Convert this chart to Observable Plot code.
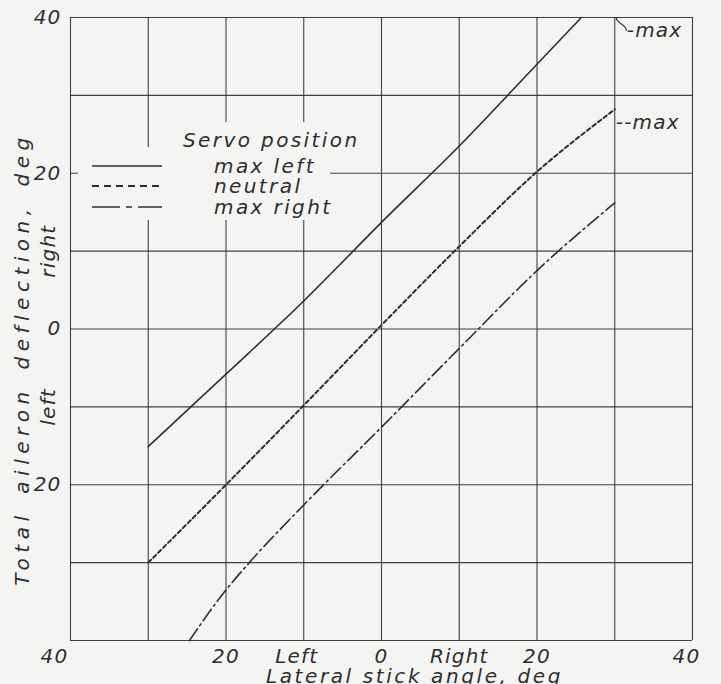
<!DOCTYPE html>
<html>
<head>
<meta charset="utf-8">
<script src="https://cdn.jsdelivr.net/npm/d3@7"></script>
<script src="https://cdn.jsdelivr.net/npm/@observablehq/plot@0.6"></script>
<style>
  html, body { margin: 0; padding: 0; background: #f4f4f2; }
  #chart { width: 721px; height: 684px; }
  svg text { font-style: italic; }
</style>
</head>
<body>
<div id="chart"></div>
<script>
// Lateral stick angle (deg) vs. total aileron deflection (deg) for three servo positions
const maxLeftStick   = [-30, -20, -10, 0, 10, 20, 25.7];
const maxLeftDefl    = [-15.1, -5.8, 3.6, 13.7, 23.5, 34, 40];

const neutralStick   = [-30, -20, -10, 0, 10, 20, 30];
const neutralDefl    = [-30, -20, -9.8, 0.5, 10.6, 20.2, 28.2];

const maxRightStick  = [-24.7, -20, -17, -10, 0, 10, 20, 30];
const maxRightDefl   = [-40, -33.5, -30, -22.6, -12.6, -2.5, 7.5, 16.2];

const legendLabels   = ["max left", "neutral", "max right"];
const legendTitle    = "Servo position";

const xTickValues = [-40, -20, -10, 0, 10, 20, 40];
const xTickLabels = ["40", "20", "Left", "0", "Right", "20", "40"];
const yTickValues = [40, 20, 0, -20];
const yTickLabels = ["40", "20", "0", "20"];
const ySideValues = [10, -10];
const ySideLabels = ["right", "left"];

const gridValues = d3.range(-40, 41, 10);

const ink = "#2e2e2e";
const paper = "#f4f4f2";
const font = "'DejaVu Sans', sans-serif";
const fs = 20;

const toRows = (xs, ys) => xs.map((x, i) => ({x, y: ys[i]}));
const maxLeft = toRows(maxLeftStick, maxLeftDefl);
const neutral = toRows(neutralStick, neutralDefl);
const maxRight = toRows(maxRightStick, maxRightDefl);
const xTicks = xTickValues.map((v, i) => ({v, label: xTickLabels[i]}));

const lettering = {fill: ink, fontSize: fs, fontStyle: "italic"};

const chart = Plot.plot({
  width: 721,
  height: 684,
  marginLeft: 70,
  marginRight: 29,
  marginTop: 17,
  marginBottom: 44,
  x: {domain: [-40, 40], axis: null},
  y: {domain: [-40, 40], axis: null},
  style: {background: paper, fontFamily: font, fontSize: fs + "px", color: ink},
  marks: [
    Plot.ruleX(gridValues, {stroke: ink, strokeWidth: 1.1, strokeOpacity: 0.9}),
    Plot.ruleY(gridValues, {stroke: ink, strokeWidth: 1.1, strokeOpacity: 0.9}),

    Plot.line(maxLeft, {x: "x", y: "y", stroke: ink, strokeWidth: 1.6, curve: "monotone-x"}),
    Plot.line(neutral, {x: "x", y: "y", stroke: ink, strokeWidth: 2, strokeDasharray: "4,3", curve: "monotone-x"}),
    Plot.line(maxRight, {x: "x", y: "y", stroke: ink, strokeWidth: 1.6, strokeDasharray: "14,4,2,4", curve: "monotone-x"}),

    // end notes at the stick limit
    Plot.link([{x1: 30.2, y1: 40, x2: 31.5, y2: 38.3}], {x1: "x1", y1: "y1", x2: "x2", y2: "y2", stroke: ink, strokeWidth: 1.2, curve: "bump-y"}),
    Plot.text([{x: 30, y: 40}], {x: "x", y: "y", text: () => "-max", dx: 12, dy: 13, textAnchor: "start", ...lettering}),
    Plot.text([{x: 30, y: 28.2}], {x: "x", y: "y", text: () => "--max", dx: 1, dy: 13, textAnchor: "start", ...lettering}),

    // x lettering, the end figures set in from the frame corners
    Plot.text(xTicks, {filter: d => d.v === -40, x: "v", y: -40, text: "label", dy: 16, dx: -16, ...lettering}),
    Plot.text(xTicks, {filter: d => d.v === 40, x: "v", y: -40, text: "label", dy: 16, dx: -6, ...lettering}),
    Plot.text(xTicks, {filter: d => d.v === -10, x: "v", y: -40, text: "label", dy: 16, dx: -7, ...lettering}),
    Plot.text(xTicks, {filter: d => Math.abs(d.v) !== 40 && d.v !== -10, x: "v", y: -40, text: "label", dy: 16, ...lettering}),

    // y lettering
    Plot.text(yTickValues, {x: -40, y: d => d, text: (d, i) => yTickLabels[i], dx: -9, textAnchor: "end", ...lettering}),
    Plot.text(ySideValues, {x: -40, y: d => d, text: (d, i) => ySideLabels[i], dx: -22, rotate: -90, ...lettering}),
    Plot.text(["Lateral stick angle, deg"], {frameAnchor: "bottom", text: d => d, dx: 33, dy: 36, textAnchor: "middle", lineAnchor: "middle", ...lettering}),
    Plot.text(["Total aileron deflection, deg"], {frameAnchor: "left", text: d => d, dx: -48, dy: 30, rotate: -90, textAnchor: "middle", ...lettering})
  ]
});

// letter spacing for the hand-lettered look
const svg = d3.select(chart);
svg.selectAll("text").style("letter-spacing", "1.2px");
svg.selectAll("text").filter(function() { return this.textContent === "Lateral stick angle, deg"; })
  .style("letter-spacing", "2.6px");
svg.selectAll("text").filter(function() { return this.textContent === "Total aileron deflection, deg"; })
  .style("letter-spacing", "5.5px").style("word-spacing", "5px");

// legend block with a paper-coloured backing that interrupts the grid
const lg = svg.append("g")
  .attr("font-family", font).attr("font-size", fs).attr("font-style", "italic")
  .attr("fill", ink).attr("text-anchor", "start")
  .style("letter-spacing", "2.4px");
lg.append("rect").attr("x", 175).attr("y", 122).attr("width", 190).attr("height", 30).attr("fill", paper);
lg.append("rect").attr("x", 78).attr("y", 147).attr("width", 252).attr("height", 73).attr("fill", paper);
lg.append("text").attr("x", 183).attr("y", 140).attr("dy", "0.35em").text(legendTitle);

const sampleDash = [null, "7,5", "28,6,6,6,24"];
const sampleWidth = [1.6, 2, 1.6];
const rowY = [166, 186, 207];
legendLabels.forEach((label, i) => {
  lg.append("line")
    .attr("x1", 92).attr("x2", 162).attr("y1", rowY[i]).attr("y2", rowY[i])
    .attr("stroke", ink).attr("stroke-width", sampleWidth[i])
    .attr("stroke-dasharray", sampleDash[i]);
  lg.append("text").attr("x", 214).attr("y", rowY[i]).attr("dy", "0.35em").text(label);
});

document.getElementById("chart").appendChild(chart);
</script>
</body>
</html>
